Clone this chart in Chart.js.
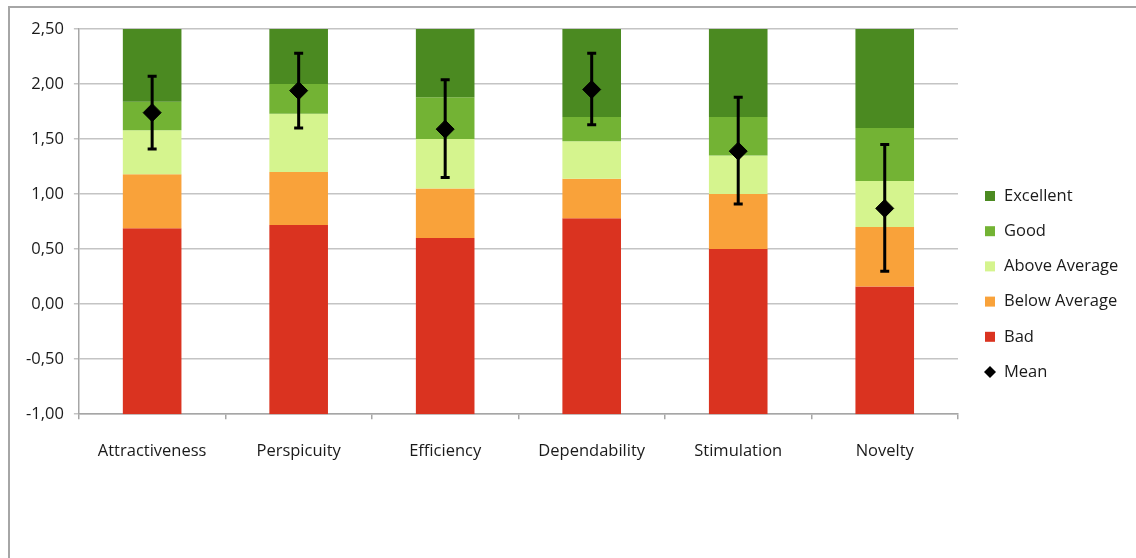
<!DOCTYPE html>
<html>
<head>
<meta charset="utf-8">
<script src="https://cdn.jsdelivr.net/npm/chart.js@4/dist/chart.umd.min.js"></script>
<style>
  html, body { margin: 0; padding: 0; background: #fff; overflow: hidden; }
  #marco { position: absolute; left: 8px; top: 6px; width: 1200px; height: 600px;
           border-left: 2px solid #a6a6a6; border-top: 2px solid #a6a6a6; }
  #lienzo { position: absolute; left: 0; top: 0; }
</style>
</head>
<body>
<div id="marco"></div>
<canvas id="lienzo" width="1136" height="558"></canvas>
<script>
// Escalas del benchmark
var categorias = ['Attractiveness', 'Perspicuity', 'Efficiency', 'Dependability', 'Stimulation', 'Novelty'];
var limiteInferior = -1;
var badTop = [0.69, 0.72, 0.60, 0.78, 0.50, 0.16];
var belowTop = [1.18, 1.20, 1.05, 1.14, 1.00, 0.70];
var aboveTop = [1.58, 1.73, 1.50, 1.48, 1.35, 1.12];
var goodTop = [1.84, 2.00, 1.88, 1.70, 1.70, 1.60];
var excellentTop = [2.50, 2.50, 2.50, 2.50, 2.50, 2.50];

// Medias e intervalos
var medias = [1.74, 1.94, 1.59, 1.95, 1.39, 0.87];
var errorBajo = [1.41, 1.60, 1.15, 1.63, 0.91, 0.30];
var errorAlto = [2.07, 2.28, 2.04, 2.28, 1.88, 1.45];

var colores = {
    excellent: '#4b8a21',
    good: '#73b334',
    above: '#d5f48e',
    below: '#f9a23a',
    bad: '#da3320'
};

// Construir tramos flotantes [desde, hasta]
function tramos(desde, hasta) {
    return desde.map((d, i) => [d, hasta[i]]);
}
var base = categorias.map(() => limiteInferior);

var fuente = '"Open Sans", "DejaVu Sans", sans-serif';

// Leyenda dibujada a mano a la derecha
var leyendaPlugin = {
    id: 'leyendaDerecha',
    afterDraw(chart) {
        var ctx = chart.ctx;
        var items = [0, 1, 2, 3, 4, 5].map(i => chart.data.datasets[i]);
        ctx.save();
        ctx.font = '16.5px ' + fuente;
        ctx.textBaseline = 'middle';
        items.forEach((ds, k) => {
            var y = 196 + k * 35.2;
            ctx.fillStyle = ds.backgroundColor;
            if (ds.type === 'line') {
                ctx.beginPath();
                ctx.moveTo(990, y - 6);
                ctx.lineTo(996, y);
                ctx.lineTo(990, y + 6);
                ctx.lineTo(984, y);
                ctx.closePath();
                ctx.fill();
            } else {
                ctx.fillRect(985, y - 5, 10, 10);
            }
            ctx.fillStyle = '#1a1a1a';
            ctx.fillText(ds.label, 1004, y);
        });
        ctx.restore();
    }
};

// Barras de error sobre las medias
var errorPlugin = {
    id: 'barrasError',
    afterDatasetsDraw(chart) {
        var meta = chart.getDatasetMeta(5);
        var y = chart.scales.y;
        var ctx = chart.ctx;
        ctx.save();
        ctx.strokeStyle = '#000';
        ctx.lineWidth = 3;
        meta.data.forEach((p, i) => {
            var y1 = y.getPixelForValue(errorAlto[i]);
            var y2 = y.getPixelForValue(errorBajo[i]);
            ctx.beginPath();
            ctx.moveTo(p.x, y1);
            ctx.lineTo(p.x, y2);
            ctx.moveTo(p.x - 4.5, y1);
            ctx.lineTo(p.x + 4.5, y1);
            ctx.moveTo(p.x - 4.5, y2);
            ctx.lineTo(p.x + 4.5, y2);
            ctx.stroke();
        });
        ctx.restore();
    }
};

new Chart(document.getElementById('lienzo').getContext('2d'), {
    type: 'bar',
    data: {
        labels: categorias,
        datasets: [
            { label: 'Excellent', data: tramos(goodTop, excellentTop), backgroundColor: colores.excellent, order: 2 },
            { label: 'Good', data: tramos(aboveTop, goodTop), backgroundColor: colores.good, order: 2 },
            { label: 'Above Average', data: tramos(belowTop, aboveTop), backgroundColor: colores.above, order: 2 },
            { label: 'Below Average', data: tramos(badTop, belowTop), backgroundColor: colores.below, order: 2 },
            { label: 'Bad', data: tramos(base, badTop), backgroundColor: colores.bad, order: 2 },
            {
                label: 'Mean', type: 'line', data: medias, showLine: false,
                backgroundColor: '#000', borderColor: '#000',
                pointStyle: 'rectRot', pointRadius: 9, pointHoverRadius: 9, order: 0
            }
        ]
    },
    options: {
        responsive: false,
        animation: false,
        events: [],
        barPercentage: 0.4,
        categoryPercentage: 1,
        layout: { padding: { top: 29, right: 178, bottom: 75, left: 16 } },
        plugins: {
            legend: { display: false },
            tooltip: { enabled: false }
        },
        scales: {
            x: {
                stacked: true,
                border: { color: '#a6a6a6', width: 1.5 },
                grid: { offset: true, drawOnChartArea: false, drawTicks: true, tickLength: 5, color: '#a6a6a6', lineWidth: 1.5 },
                ticks: { color: '#1a1a1a', font: { family: fuente, size: 16.5 }, padding: 22 }
            },
            y: {
                stacked: false,
                min: -1,
                max: 2.5,
                border: { color: '#a6a6a6', width: 1.5 },
                grid: { color: '#c4c4c4', lineWidth: 1.5, tickLength: 5 },
                ticks: {
                    stepSize: 0.5,
                    color: '#1a1a1a',
                    font: { family: fuente, size: 16.5 },
                    padding: 10,
                    callback: v => v.toFixed(2).replace('.', ',')
                }
            }
        }
    },
    plugins: [errorPlugin, leyendaPlugin]
});
</script>
</body>
</html>
